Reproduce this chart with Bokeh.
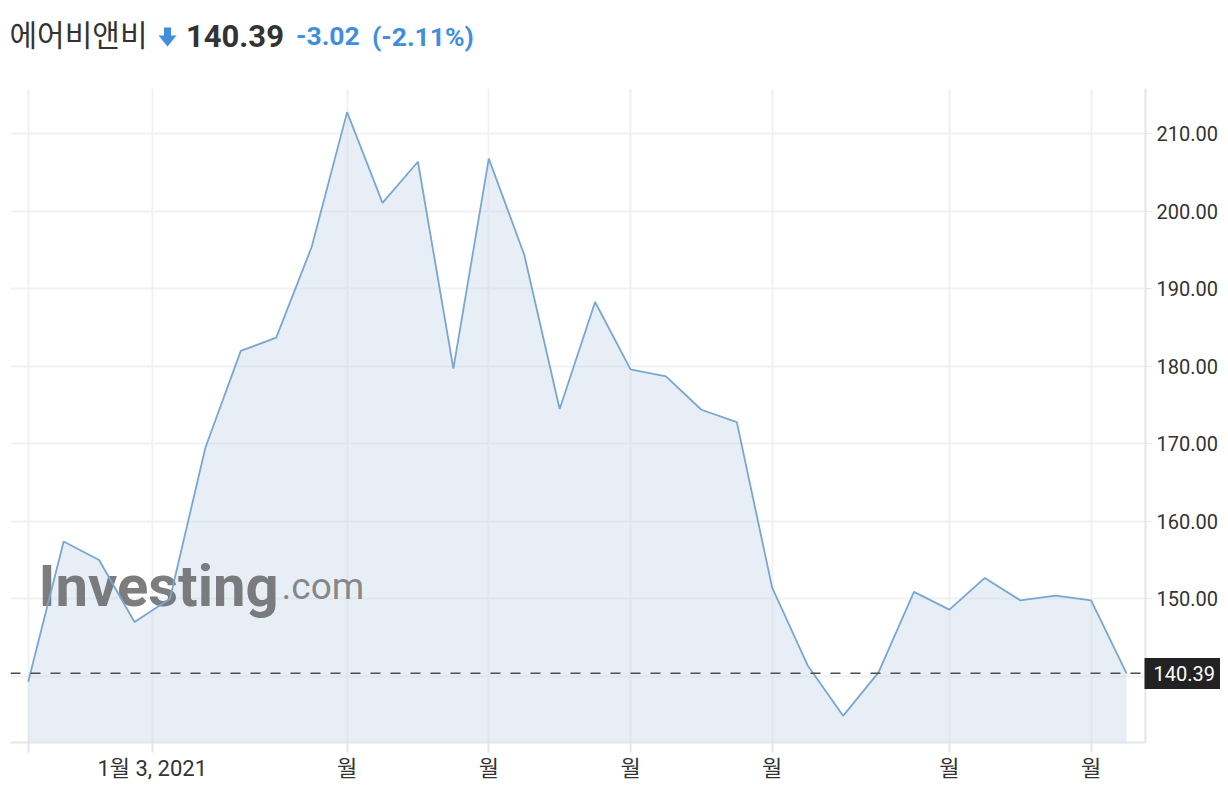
from bokeh.plotting import figure
from bokeh.models import (Range1d, FixedTicker, NumeralTickFormatter, Span, LinearAxis,
                          ColumnDataSource)
from bokeh.layouts import column
from bokeh.core.properties import value
from bokeh.embed import file_html
from bokeh.resources import INLINE

# ---- data ----
title_name = "에어비앤비"
last_price = 140.39
change = -3.02
change_pct = -2.11

week_index = list(range(32))
close_prices = [139.3, 157.4, 155.0, 147.0, 150.0, 169.5, 182.0, 183.7, 195.4, 212.8,
                201.1, 206.4, 179.7, 206.8, 194.4, 174.5, 188.3, 179.6, 178.7, 174.4,
                172.8, 151.4, 141.4, 134.9, 140.5, 150.9, 148.6, 152.7, 149.8, 150.4,
                149.8, 140.39]

x_tick_positions = [0, 3.5, 9, 13, 17, 21, 26, 30]
x_tick_labels = ["", "1월 3, 2021", "월", "월", "월", "월", "월", "월"]
y_ticks = [140, 150, 160, 170, 180, 190, 200, 210]

FONT = "Roboto, 'Noto Sans CJK KR'"
BLUE = "#3f8fdc"
W = 1220
BL, BR = 10, 75

# ---- header ----
h = figure(width=W, height=88, x_range=Range1d(BL, W - BR), y_range=Range1d(0, 88),
           x_axis_location=None, y_axis_location=None,
           min_border_left=BL, min_border_right=BR, min_border_top=0, min_border_bottom=0,
           toolbar_location=None, output_backend="svg")
h.outline_line_color = None
h.grid.visible = False
h.text(x=[9], y=[56], text=[title_name], text_font=value("Noto Sans CJK KR"),
       text_font_size="30px", text_color="#333333", text_baseline="alphabetic")
# down arrow icon
h.rect(x=[167], y=[56.5], width=7, height=9, fill_color=BLUE, line_color=None)
h.patch(x=[158, 176, 167], y=[53, 53, 42], fill_color=BLUE, line_color=None)
h.text(x=[185.5], y=[52.4], text=[f"{last_price:.2f}"], text_font=value("Roboto"),
       text_font_style="bold", text_font_size="31px", text_color="#333333",
       text_baseline="alphabetic")
h.text(x=[295.5], y=[52.1], text=[f"{change:.2f}"], text_font=value("Roboto"),
       text_font_style="bold", text_font_size="26.5px", text_color=BLUE,
       text_baseline="alphabetic")
h.text(x=[371.5], y=[52.1], text=[f"({change_pct:.2f}%)"], text_font=value("Roboto"),
       text_font_style="bold", text_font_size="26.5px", text_color=BLUE,
       text_baseline="alphabetic")

# ---- main chart ----
y_start, y_end = 131.46, 215.85
x_start, x_end = -0.5, 31.535
p = figure(width=W, height=700, x_range=Range1d(x_start, x_end), y_range=Range1d(y_start, y_end),
           y_axis_location="right", toolbar_location=None, output_backend="svg",
           min_border_left=BL, min_border_right=BR, min_border_top=0, min_border_bottom=46)
p.outline_line_color = None

src = ColumnDataSource(dict(x=week_index, y=close_prices, base=[y_start] * len(week_index)))

p.varea(x="x", y1="base", y2="y", source=src, fill_color="#c6d6e8", fill_alpha=0.42)

# watermark
p.text(x=[0.29], y=[151.6], text=["Investing"], text_font=value("Roboto"),
       text_font_style="bold", text_font_size="58px", text_color="#666666",
       text_alpha=0.85, text_baseline="alphabetic")
p.text(x=[7.15], y=[151.6], text=[".com"], text_font=value("Roboto"),
       text_font_size="37px", text_color="#757575", text_alpha=0.85,
       text_baseline="alphabetic")

p.line(x="x", y="y", source=src, line_color="#79a7d3", line_width=1.8)

p.add_layout(Span(location=last_price, dimension="width", line_color="#4d4d4d",
                  line_dash="10 10", line_width=1.5))

# axes
xa = p.xaxis[0]
xa.ticker = FixedTicker(ticks=x_tick_positions)
xa.major_label_overrides = {t: l for t, l in zip(x_tick_positions, x_tick_labels)}
xa.axis_line_color = "#e1e6ec"
xa.axis_line_width = 2
xa.major_tick_line_color = "#e1e6ec"
xa.major_tick_line_width = 2
xa.major_tick_in = 0
xa.major_tick_out = 10
xa.minor_tick_line_color = None
xa.major_label_standoff = 3
xa.major_label_text_font = FONT
xa.major_label_text_font_size = "22px"
xa.major_label_text_color = "#333333"

ya = p.yaxis[0]
ya.ticker = FixedTicker(ticks=y_ticks)
ya.formatter = NumeralTickFormatter(format="0.00")
ya.major_label_overrides = {140: ""}
ya.axis_line_color = "#e1e6ec"
ya.axis_line_width = 2
ya.major_tick_line_color = "#e1e6ec"
ya.major_tick_line_width = 1
ya.major_tick_in = 0
ya.major_tick_out = 6
ya.minor_tick_line_color = None
ya.major_label_standoff = 5
ya.major_label_text_font = FONT
ya.major_label_text_font_size = "20px"
ya.major_label_text_color = "#333333"

# last-price marker box: an outer axis whose single thick tick points back inward
price_axis = LinearAxis(ticker=FixedTicker(ticks=[last_price]),
                        formatter=NumeralTickFormatter(format="0.00"))
price_axis.axis_line_color = None
price_axis.minor_tick_line_color = None
price_axis.major_tick_line_color = "#222222"
price_axis.major_tick_line_width = 31
price_axis.major_tick_in = 76
price_axis.major_tick_out = 0
price_axis.major_label_standoff = -67
price_axis.major_label_text_font = "Roboto"
price_axis.major_label_text_font_size = "20px"
price_axis.major_label_text_color = "#ffffff"
p.add_layout(price_axis, "right")

p.xgrid.ticker = FixedTicker(ticks=x_tick_positions)
p.ygrid.ticker = FixedTicker(ticks=y_ticks)
p.grid.grid_line_color = "#f1f1f1"
p.grid.grid_line_width = 2

layout = column(h, p, spacing=0)
open("out.html", "w").write(file_html(layout, INLINE))
